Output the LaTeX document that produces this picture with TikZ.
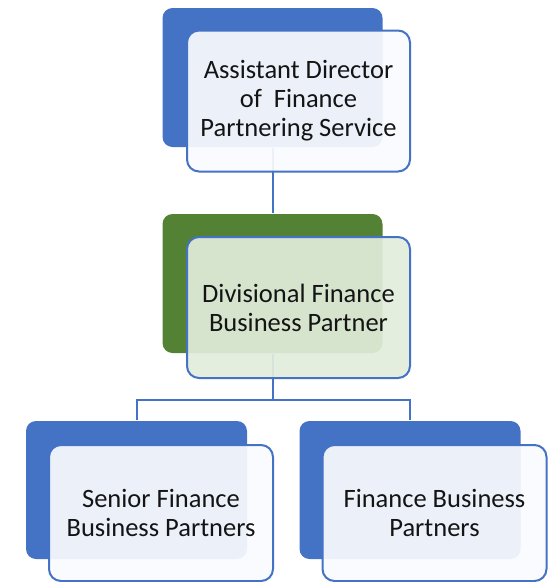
\documentclass[tikz,border=0pt]{standalone}
\usepackage{fontspec}
\setmainfont{Carlito}
\usetikzlibrary{positioning}
\definecolor{cblue}{HTML}{4472C4}
\definecolor{cgreen}{HTML}{548235}
\definecolor{cpale}{HTML}{FAFBFE}
\definecolor{cmint}{HTML}{E2EDDC}
\definecolor{ctext}{HTML}{141414}
\tikzset{
  every picture/.style={line width=2pt},
  back/.style={fill=#1, draw=none, rounded corners=10pt, minimum width=220pt, minimum height=139pt},
  back/.default=cblue,
  front/.style={fill=#1, fill opacity=0.92, text opacity=1, draw=cblue, rounded corners=12pt,
    minimum width=223pt, minimum height=141pt, align=center, text=ctext,
    font=\fontsize{26.5}{29}\selectfont},
  front/.default=cpale,
  link/.style={draw=cblue, line width=2pt},
}

\begin{document}
\begin{tikzpicture}[x=1pt, y=-1pt]
  \useasboundingbox (0,0) rectangle (548,582);
  % shadow boxes behind each post
  \node[back] (adb) at (272.5,77.5) {};
  \node[back=cgreen] (dfb) at (272.5,283.5) {};
  \node[back, minimum width=221pt, minimum height=138pt] (sfb) at (136.5,490) {};
  \node[back, minimum width=221pt, minimum height=138pt] (fbb) at (410,490) {};
  % reporting lines
  \coordinate (bus) at (272.5,400);
  \draw[link] (adb.south) -- (dfb.north);
  \draw[link] (dfb.south) -- (bus);
  \draw[link] (sfb.north) |- (bus) -| (fbb.north);
  % posts
  \node[front] (ad) at (298.5,101) {Assistant Director\\of\ \ Finance\\Partnering Service};
  \node[front=cmint] (df) at (298.5,307.5) {Divisional Finance\\Business Partner};
  \node[front, minimum width=224pt, minimum height=136pt] (sf) at (161,513) {Senior Finance\\Business Partners};
  \node[front, minimum width=224pt, minimum height=136pt] (fb) at (434.5,513) {Finance Business\\Partners};
\end{tikzpicture}
\end{document}
